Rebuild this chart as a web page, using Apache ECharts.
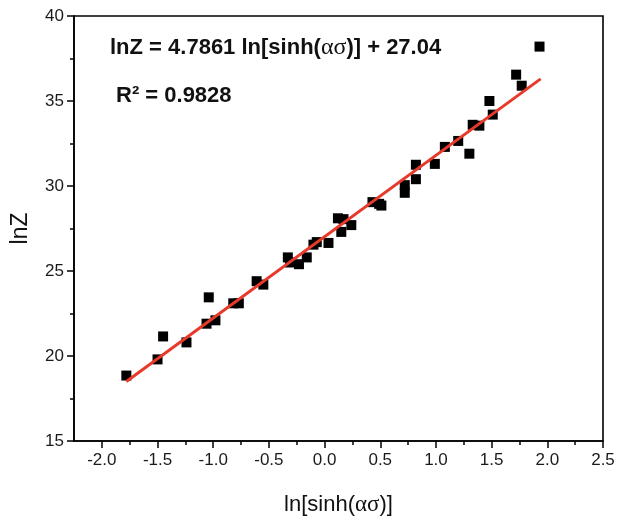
<!DOCTYPE html>
<html>
<head>
<meta charset="utf-8">
<script src="https://cdn.jsdelivr.net/npm/echarts@6/dist/echarts.min.js"></script>
<style>html,body{margin:0;padding:0;background:#fff;}#chart{width:625px;height:517px;}</style>
</head>
<body>
<div id="chart"></div>
<script>
// ln[sinh(ασ)] values
const xVals = [-1.78, -1.50, -1.45, -1.24, -1.06, -1.04, -0.98, -0.82, -0.77, -0.61, -0.55,
  -0.33, -0.31, -0.23, -0.16, -0.10, -0.07, 0.035, 0.12, 0.17, 0.15, 0.24, 0.43, 0.49, 0.51,
  0.72, 0.72, 0.82, 0.82, 0.99, 1.08, 1.20, 1.30, 1.33, 1.39, 1.48, 1.51, 1.72, 1.77, 1.93];
// lnZ values
const yVals = [18.85, 19.8, 21.15, 20.8, 21.9, 23.45, 22.1, 23.1, 23.1, 24.4, 24.2,
  25.8, 25.5, 25.4, 25.8, 26.55, 26.7, 26.65, 28.1, 28.05, 27.3, 27.7, 29.05, 28.95, 28.85,
  30.05, 29.6, 31.25, 30.4, 31.3, 32.3, 32.65, 31.9, 33.6, 33.55, 35.0, 34.2, 36.55, 35.9, 38.2];
// fitted line end points
const fitX = [-1.78, 1.94];
const fitY = [18.5, 36.3];
// axis ticks
const xTicks = [-2.0, -1.5, -1.0, -0.5, 0.0, 0.5, 1.0, 1.5, 2.0, 2.5];
const xMinorTicks = [-1.75, -1.25, -0.75, -0.25, 0.25, 0.75, 1.25, 1.75, 2.25];
const yTicks = [15, 20, 25, 30, 35, 40];
const equationText = 'lnZ = 4.7861 ln[sinh(';
const equationText2 = ')] + 27.04';
const r2Text = 'R² = 0.9828';

const scatterData = xVals.map((x, i) => [x, yVals[i]]);
const fitData = fitX.map((x, i) => [x, fitY[i]]);

const chart = echarts.init(document.getElementById('chart'), null, {renderer: 'canvas'});
const fontFam = 'Liberation Sans, Arial, sans-serif';
chart.setOption({
  backgroundColor: '#fff',
  animation: false,
  grid: {left: 74, right: 22, top: 16, bottom: 76, containLabel: false, outerBoundsMode: 'none',
    show: true, borderColor: '#000', borderWidth: 1.6, backgroundColor: 'transparent'},
  xAxis: [{
    type: 'value', min: -2.25, max: 2.5,
    name: 'ln[sinh({g|ασ})]', nameLocation: 'middle', nameGap: 52,
    nameTextStyle: {fontFamily: fontFam, fontSize: 22, color: '#111', rich: {g: {fontFamily: 'Liberation Serif, Times New Roman, serif', fontSize: 23, color: '#111'}}},
    axisLine: {show: true, onZero: false, lineStyle: {color: '#000', width: 1.6}},
    axisTick: {show: true, inside: false, length: 7, lineStyle: {color: '#000', width: 1.5}, customValues: xTicks},
    axisLabel: {show: true, margin: 11, fontFamily: fontFam, fontSize: 17, color: '#1a1a1a', customValues: xTicks, formatter: v => v.toFixed(1)},
    splitLine: {show: false}
  }, {
    type: 'value', min: -2.25, max: 2.5, position: 'bottom', offset: 0, gridIndex: 0,
    axisLine: {show: false, onZero: false},
    axisTick: {show: true, length: 4, lineStyle: {color: '#000', width: 1.5}, customValues: xMinorTicks},
    axisLabel: {show: false},
    splitLine: {show: false}
  }],
  yAxis: {
    type: 'value', min: 15, max: 40, interval: 5,
    name: 'lnZ', nameLocation: 'middle', nameGap: 42,
    nameTextStyle: {fontFamily: fontFam, fontSize: 23, color: '#111'},
    axisLine: {show: true, onZero: false, lineStyle: {color: '#000', width: 1.6}},
    axisTick: {show: true, inside: false, length: 7, lineStyle: {color: '#000', width: 1.5}},
    minorTick: {show: true, splitNumber: 2, length: 4, lineStyle: {color: '#000', width: 1.5}},
    axisLabel: {show: true, margin: 10, fontFamily: fontFam, fontSize: 17, color: '#1a1a1a'},
    splitLine: {show: false}
  },
  graphic: [{
    type: 'text', left: 110, top: 36,
    style: {
      text: '{b|' + equationText + '}{g|ασ}{b|' + equationText2 + '}',
      rich: {
        b: {fontFamily: fontFam, fontWeight: 'bold', fontSize: 22, fill: '#111'},
        g: {fontFamily: 'Liberation Serif, serif', fontSize: 24, fill: '#111'}
      }
    }
  }, {
    type: 'text', left: 116, top: 85,
    style: {text: r2Text, fontFamily: fontFam, fontWeight: 'bold', fontSize: 22, fill: '#111'}
  }],
  series: [{
    type: 'scatter', data: scatterData, symbol: 'rect', symbolSize: 10,
    itemStyle: {color: '#000', opacity: 1}, z: 3
  }, {
    type: 'line', data: fitData, symbol: 'none',
    lineStyle: {color: '#e8392b', width: 3}, z: 4
  }]
});
</script>
</body>
</html>
